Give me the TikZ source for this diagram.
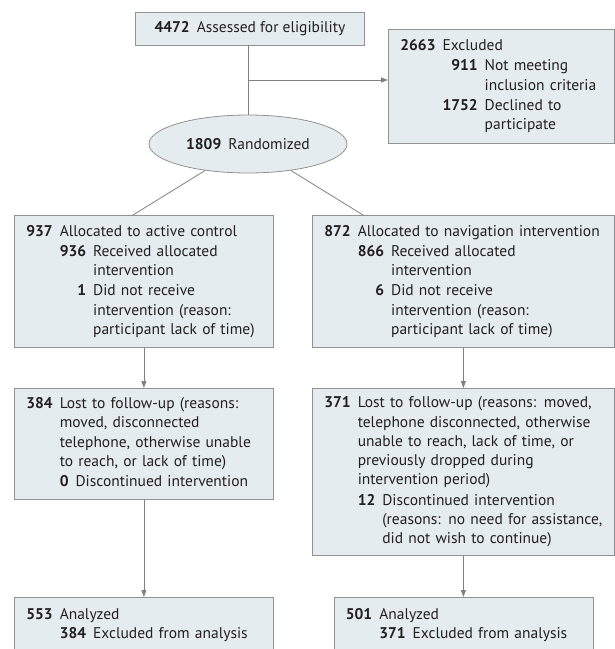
\documentclass[tikz,border=0pt]{standalone}
\usepackage{fontspec}
\setmainfont{PT Sans}
\usepackage{array}
\usetikzlibrary{shapes.geometric,arrows.meta}

\definecolor{boxfill}{RGB}{229,236,240}
\definecolor{boxline}{RGB}{145,145,145}
\definecolor{linegray}{RGB}{128,128,128}
\definecolor{txtcol}{RGB}{35,31,32}

\newcommand{\nb}[1]{\textbf{#1}}
\setlength{\tabcolsep}{0pt}
\newenvironment{flowlist}{\begin{tabular}{@{}l@{\hspace{7pt}}r@{\hspace{7pt}}l@{}}}{\end{tabular}}

\begin{document}
\begin{tikzpicture}[x=1pt,y=1pt,yscale=-1,
  every node/.style={font=\fontsize{15.5}{19.3}\selectfont,text=txtcol},
  box/.style={draw=boxline,fill=boxfill,line width=0.8pt,inner xsep=12pt,inner ysep=0pt,align=left},
  ell/.style={ellipse,draw=boxline,fill=boxfill,line width=0.8pt,inner sep=0pt},
  line/.style={draw=linegray,line width=0.8pt},
  arrow/.style={line,-{Triangle[length=7pt,width=5pt]}}]
\path[use as bounding box] (0,0) rectangle (615,649);
\clip (0,0) rectangle (615,649);

%Shape: top box
\node (assess) [box,inner xsep=19pt,minimum height=33pt] at (250,28.5) {\nb{4472}\hspace{7pt}Assessed for eligibility};
%Shape: excluded box
\node (excl) [box,anchor=north west,minimum width=226pt,minimum height=114pt,text width=202pt] at (388,29) {%
\begin{flowlist}
\nb{2663} & \multicolumn{2}{l}{Excluded}\\[1pt]
 & \nb{911} & Not meeting\\
 & & inclusion criteria\\[1pt]
 & \nb{1752} & Declined to\\
 & & participate
\end{flowlist}};
%Shape: Ellipse
\node (rand) [ell,minimum width=198pt,minimum height=58pt] at (248,144) {\nb{1809}\hspace{7pt}Randomized};

%Shape: allocation boxes
\node (ctrl) [box,anchor=north west,minimum width=259pt,minimum height=132pt,text width=235pt] at (14,215) {%
\begin{flowlist}
\nb{937} & \multicolumn{2}{l}{Allocated to active control}\\[1pt]
 & \nb{936} & Received allocated\\
 & & intervention\\[1pt]
 & \nb{1} & Did not receive\\
 & & intervention (reason:\\
 & & participant lack of time)
\end{flowlist}};
\node (nav) [box,anchor=north west,minimum width=302pt,minimum height=132pt,text width=278pt] at (312,215) {%
\begin{flowlist}
\nb{872} & \multicolumn{2}{l}{Allocated to navigation intervention}\\[1pt]
 & \nb{866} & Received allocated\\
 & & intervention\\[1pt]
 & \nb{6} & Did not receive\\
 & & intervention (reason:\\
 & & participant lack of time)
\end{flowlist}};

%Shape: follow-up boxes
\node (lostc) [box,anchor=north west,minimum width=259pt,minimum height=111pt,text width=235pt] at (14,388) {%
\begin{flowlist}
\nb{384} & \multicolumn{2}{l}{Lost to follow-up (reasons:}\\
 & \multicolumn{2}{l}{moved, disconnected}\\
 & \multicolumn{2}{l}{telephone, otherwise unable}\\
 & \multicolumn{2}{l}{to reach, or lack of time)}\\[1pt]
 & \nb{0} & Discontinued intervention
\end{flowlist}};
\node (lostn) [box,anchor=north west,minimum width=302pt,minimum height=167pt,text width=278pt] at (312,388) {%
\begin{flowlist}
\nb{371} & \multicolumn{2}{l}{Lost to follow-up (reasons: moved,}\\
 & \multicolumn{2}{l}{telephone disconnected, otherwise}\\
 & \multicolumn{2}{l}{unable to reach, lack of time, or}\\
 & \multicolumn{2}{l}{previously dropped during}\\
 & \multicolumn{2}{l}{intervention period)}\\[1pt]
 & \nb{12} & Discontinued intervention\\
 & & (reasons: no need for assistance,\\
 & & did not wish to continue)
\end{flowlist}};

%Shape: analysis boxes
\node (anac) [box,anchor=north west,minimum width=259pt,minimum height=56pt,text width=235pt] at (14,597) {%
\begin{flowlist}
\nb{553} & \multicolumn{2}{l}{Analyzed}\\
 & \nb{384} & Excluded from analysis
\end{flowlist}};
\node (anan) [box,anchor=north west,minimum width=259pt,minimum height=56pt,text width=235pt] at (333.5,597) {%
\begin{flowlist}
\nb{501} & \multicolumn{2}{l}{Analyzed}\\
 & \nb{371} & Excluded from analysis
\end{flowlist}};

%Straight Lines
\coordinate (split) at (248,80);
\coordinate (ctrlin) at (133,215);
\coordinate (navin) at (363,215);
\draw [line] (assess.south -| rand.north) -- (rand.north);
\draw [arrow] (split) -- (split -| excl.west);
\draw [line] (rand) -- (ctrlin);
\draw [line] (rand) -- (navin);
\draw [arrow] (ctrl) -- (lostc);
\draw [arrow] (nav) -- (lostn);
\draw [arrow] (lostc) -- (anac);
\draw [arrow] (lostn) -- (anan);

\end{tikzpicture}
\end{document}
